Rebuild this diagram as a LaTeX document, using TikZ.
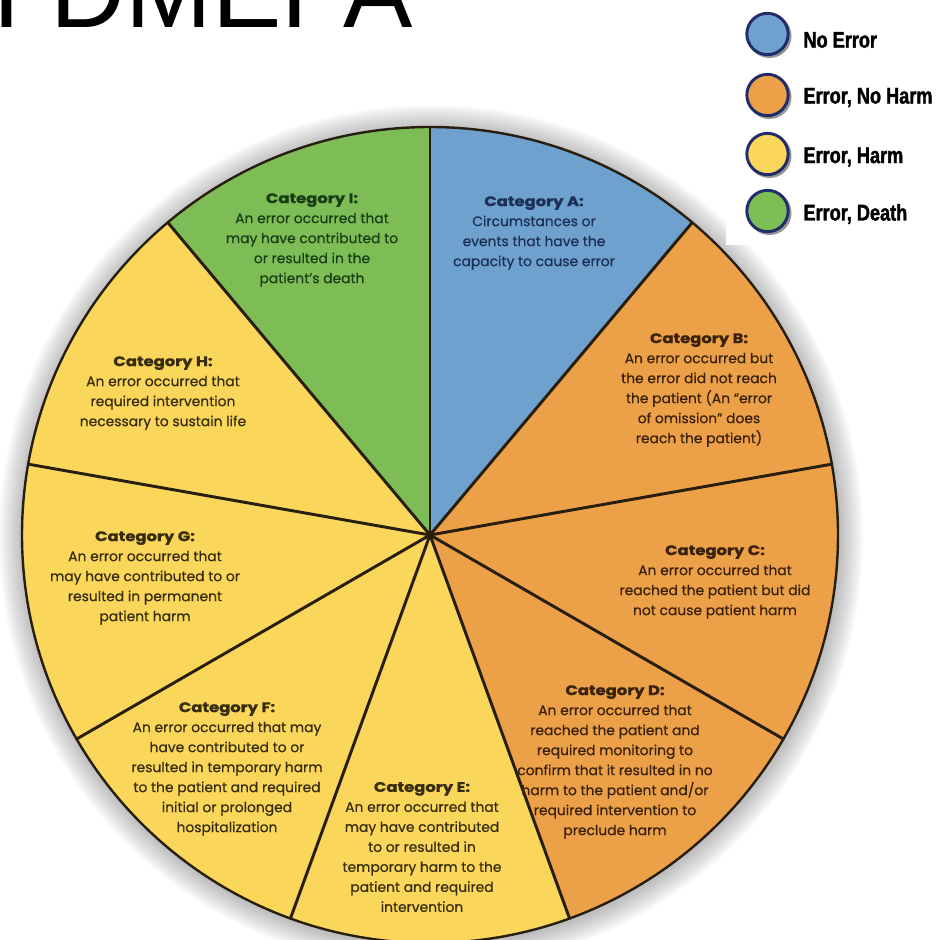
\documentclass[tikz,border=0pt]{standalone}
\usepackage{fontspec}
\setmainfont[FakeBold=0.5]{Poppins}
\newfontfamily\cathead[FakeStretch=1.18,FakeBold=1.2]{Poppins}
\newfontfamily\headfont{Liberation Sans}
\newfontfamily\keyfont[FakeStretch=0.8,FakeBold=1.5]{Liberation Sans}

\definecolor{errblue}{RGB}{111,161,206}
\definecolor{errorange}{RGB}{236,160,72}
\definecolor{erryellow}{RGB}{250,214,90}
\definecolor{errgreen}{RGB}{126,189,86}
\definecolor{slicerim}{RGB}{40,30,15}
\definecolor{keyrim}{RGB}{32,45,105}
\definecolor{inkblue}{RGB}{28,48,85}
\definecolor{inkgreen}{RGB}{25,62,22}
\definecolor{inkbrown}{RGB}{58,34,10}
\definecolor{inkolive}{RGB}{55,44,14}

\tikzset{every picture/.style={line width=0.75pt}}
\newcommand{\cattitle}[1]{{\cathead\bfseries #1}}

\begin{document}
\begin{tikzpicture}[x=0.75pt,y=0.75pt,yscale=-1,xscale=1,
  spoke/.style={draw=slicerim, line width=2.2pt, line cap=round},
  rim/.style={draw=slicerim, line width=1.8pt},
  cat/.style={align=center, inner sep=0pt, font=\fontsize{10.4}{15}\selectfont},
  keydot/.style={circle, draw=keyrim, line width=2.2pt, minimum size=31pt, inner sep=0pt},
  keylabel/.style={anchor=west, inner sep=0pt, font=\keyfont\bfseries\fontsize{17}{17}\selectfont}]
\path[use as bounding box, clip] (0,0) rectangle (939,940);

%Title (cut at the top)
\node[anchor=base east, inner sep=0pt, font=\headfont\fontsize{78}{78}\selectfont] (heading) at (413,27) {I DMEPA};

%Shadow round the wheel
\foreach \k in {1,...,12}
  \fill[black, opacity=0.025] (431,537) circle[radius=408+2*\k];

%Wheel [centre and sectors]
\coordinate (hub) at (430,535);
\foreach \a/\col in {50/errblue, 10/errorange, -30/errorange, -70/errorange, -110/erryellow, -150/erryellow, 170/erryellow, 130/erryellow, 90/errgreen}
  \fill[\col] (hub) -- ++(-\a:408) arc[start angle=-\a, end angle=-\a-40, radius=408] -- cycle;
\foreach \a in {90,50,10,-30,-70,-110,-150,170,130}
  \draw[spoke] (hub) -- ++(-\a:408);
\draw[rim] (hub) circle[radius=408];

%Texts of the sectors
\node[cat, text=inkblue] (catA) at (534,233) {\cattitle{Category A:}\\Circumstances or\\events that have the\\capacity to cause error};
\node[cat, text=inkbrown] (catB) at (699,390) {\cattitle{Category B:}\\An error occurred but\\the error did not reach\\the patient (An ``error\\of omission'' does\\reach the patient)};
\node[cat, text=inkbrown] (catC) at (715,582) {\cattitle{Category C:}\\An error occurred that\\reached the patient but did\\not cause patient harm};
\node[cat, text=inkbrown] (catD) at (615,762) {\cattitle{Category D:}\\An error occurred that\\reached the patient and\\required monitoring to\\confirm that it resulted in no\\harm to the patient and/or\\required intervention to\\preclude harm};
\node[cat, text=inkolive] (catE) at (422,847) {\cattitle{Category E:}\\An error occurred that\\may have contributed\\to or resulted in\\temporary harm to the\\patient and required\\intervention};
\node[cat, text=inkolive] (catF) at (227,769) {\cattitle{Category F:}\\An error occurred that may\\have contributed to or\\resulted in temporary harm\\to the patient and required\\initial or prolonged\\hospitalization};
\node[cat, text=inkolive] (catG) at (145,578) {\cattitle{Category G:}\\An error occurred that\\may have contributed to or\\resulted in permanent\\patient harm};
\node[cat, text=inkolive] (catH) at (163,393) {\cattitle{Category H:}\\An error occurred that\\required intervention\\necessary to sustain life};
\node[cat, text=inkgreen] (catI) at (312,240) {\cattitle{Category I:}\\An error occurred that\\may have contributed to\\or resulted in the\\patient's death};

%Legend
\fill[white] (726,0) rectangle (939,245);
\foreach \y/\col/\txt [count=\i] in {34/errblue/No Error, 95/errorange/{Error, No Harm}, 154/erryellow/{Error, Harm}, 211/errgreen/{Error, Death}} {
  \fill[black!70, opacity=0.6] (769.5,\y+2) circle[radius=22];
  \node[keydot, fill=\col] (dot\i) at (767.5,\y) {};
}
\node[keylabel] (key1) at (803,40) {No Error};
\node[keylabel] (key2) at (803,97.5) {Error, No Harm};
\node[keylabel] (key3) at (803,157) {Error, Harm};
\node[keylabel] (key4) at (803,214) {Error, Death};
\end{tikzpicture}
\end{document}
